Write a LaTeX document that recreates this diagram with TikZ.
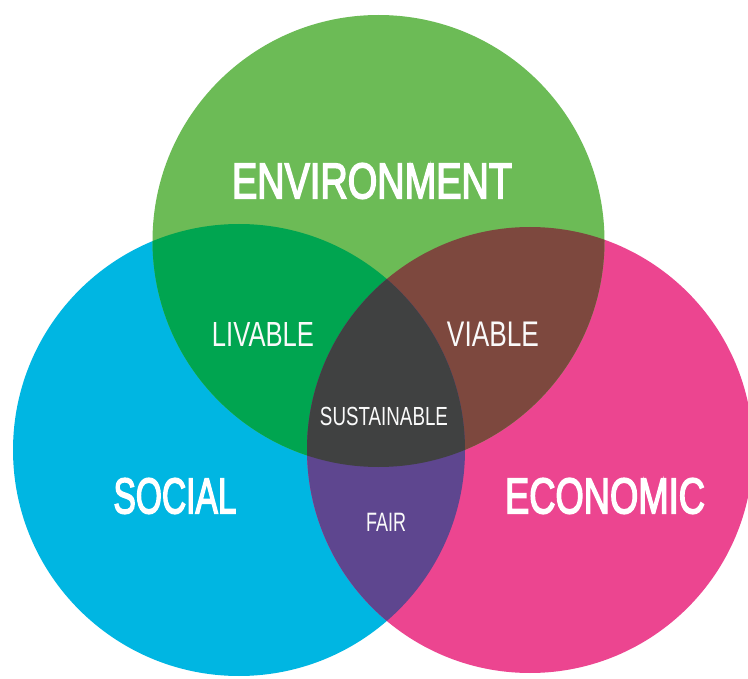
\documentclass[tikz,border=0pt]{standalone}
\usepackage{fontspec}
\usepackage{graphicx}
\setmainfont{Liberation Sans}
\newfontfamily\labelsans{Liberation Sans}
\newfontfamily\mediumsans{Liberation Sans}[FakeBold=3.5]
\definecolor{envgreen}{HTML}{6CBB56}
\definecolor{socblue}{HTML}{00B6E2}
\definecolor{ecopink}{HTML}{EC4590}
\definecolor{livgreen}{HTML}{00A550}
\definecolor{viabrown}{HTML}{7D483E}
\definecolor{fairpurple}{HTML}{5E468F}
\definecolor{sustgray}{HTML}{404141}
% fit a label into a given width and cap height
\newcommand{\fitword}[3]{\resizebox{#1pt}{#2pt}{#3}}
\tikzset{
  biglabel/.style={text=white, inner sep=0pt, font=\mediumsans},
  smalllabel/.style={text=white!96!gray, inner sep=0pt, font=\labelsans}
}
\begin{document}
\begin{tikzpicture}[x=1pt, y=-1pt]
  \useasboundingbox (0,0) rectangle (748,679);
  \clip (0,0) rectangle (748,679);
  \fill[white] (0,0) rectangle (748,679);

  % circle centres
  \coordinate (env) at (378.5,241);
  \coordinate (soc) at (239,450);
  \coordinate (eco) at (530,450);
  \def\renv{226}
  \def\rsoc{226}
  \def\reco{223}

  % the three sets
  \fill[socblue] (soc) circle [radius=\rsoc];
  \fill[ecopink] (eco) circle [radius=\reco];
  \fill[envgreen] (env) circle [radius=\renv];

  % pairwise overlaps
  \begin{scope}
    \clip (env) circle [radius=\renv];
    \fill[livgreen] (soc) circle [radius=\rsoc];
    \fill[viabrown] (eco) circle [radius=\reco];
  \end{scope}
  \begin{scope}
    \clip (soc) circle [radius=\rsoc];
    \fill[fairpurple] (eco) circle [radius=\reco];
  \end{scope}
  % common core
  \begin{scope}
    \clip (env) circle [radius=\renv];
    \clip (soc) circle [radius=\rsoc];
    \fill[sustgray] (eco) circle [radius=\reco];
  \end{scope}

  % labels
  \node[biglabel] (tenv) at (372,181) {\fitword{280}{35}{ENVIRONMENT}};
  \node[biglabel] (tsoc) at (175,496) {\fitword{123}{35}{SOCIAL}};
  \node[biglabel] (teco) at (605,496) {\fitword{200}{35}{ECONOMIC}};
  \node[smalllabel] (tliv) at (263,334) {\fitword{102}{24}{LIVABLE}};
  \node[smalllabel] (tvia) at (493,334) {\fitword{92}{24.5}{VIABLE}};
  \node[smalllabel] (tsus) at (384,416) {\fitword{128}{18.3}{SUSTAINABLE}};
  \node[smalllabel] (tfair) at (386,522.5) {\fitword{40}{18.3}{FAIR}};
\end{tikzpicture}
\end{document}
